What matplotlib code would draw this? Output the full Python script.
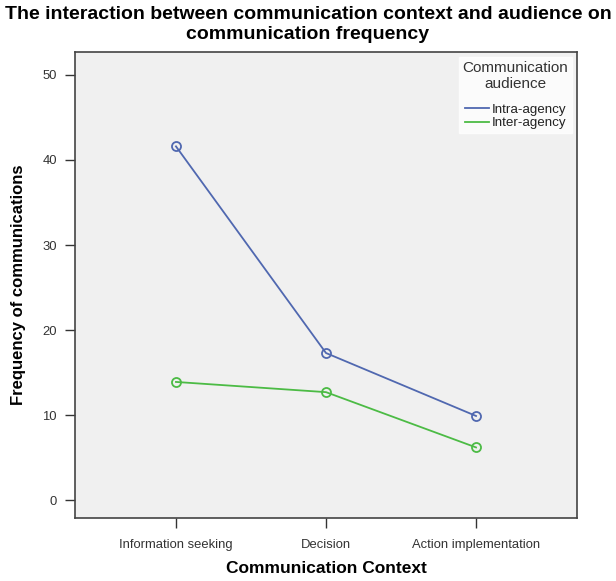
import matplotlib
matplotlib.use("Agg")
import matplotlib.pyplot as plt
from matplotlib.lines import Line2D

plt.rcParams['font.family'] = ['Liberation Sans', 'DejaVu Sans']

categories = ["Information seeking", "Decision", "Action implementation"]
intra_agency = [41.6, 17.3, 9.9]
inter_agency = [13.9, 12.7, 6.2]
yticks = [0, 10, 20, 30, 40, 50]

blue = '#5068b0'
green = '#4cbb45'

fig = plt.figure(figsize=(6.16, 5.81), dpi=100)
ax = fig.add_axes([75/616, 1-518/581, (577-75)/616, (518-52)/581])
ax.set_facecolor('#f0f0f0')

x = list(range(len(categories)))
ax.plot(x, intra_agency, color=blue, lw=1.3, marker='o', ms=6.5,
        mfc='none', mec=blue, mew=1.3)
ax.plot(x, inter_agency, color=green, lw=1.3, marker='o', ms=6.5,
        mfc='none', mec=green, mew=1.3)

ax.set_xlim(-0.673, 2.673)
ax.set_ylim(-2.1, 52.7)
ax.set_xticks(x)
ax.set_xticklabels(categories, fontsize=9.4, color='#333333')
ax.set_yticks(yticks)
ax.set_yticklabels([str(v) for v in yticks], fontsize=9.4, color='#333333')
ax.tick_params(axis='x', direction='out', length=7, width=1, color='#333333', pad=8)
ax.tick_params(axis='y', direction='out', length=7, width=1, color='#333333', pad=6)
for s in ax.spines.values():
    s.set_color('#444444')
    s.set_linewidth(1.2)

ax.set_xlabel('Communication Context', fontsize=12.5, fontweight='bold', labelpad=7)
ax.set_ylabel('Frequency of communications', fontsize=12, fontweight='bold', labelpad=12)
fig.text(0.5, 1 - 6/581,
         'The interaction between communication context and audience on\ncommunication frequency',
         fontsize=14, fontweight='bold', ha='center', va='top', linespacing=1.25,
         multialignment='center')

handles = [Line2D([], [], color=blue, lw=1.3), Line2D([], [], color=green, lw=1.3)]
leg = ax.legend(handles, ['Intra-agency', 'Inter-agency'],
                title='Communication\naudience', loc='upper right', fontsize=9.6,
                title_fontsize=11, frameon=True, fancybox=False, handlelength=1.8,
                handletextpad=0.2, labelspacing=0.1, borderaxespad=0.35,
                borderpad=0.3, bbox_to_anchor=(1.0, 1.0))
leg._legend_box.sep = 9
leg.get_frame().set_facecolor('white')
leg.get_frame().set_edgecolor('white')
leg.get_title().set_multialignment('center')
leg.get_title().set_color('#333333')
for t in leg.get_texts():
    t.set_color('#222222')

fig.savefig('out.png', dpi=100)
